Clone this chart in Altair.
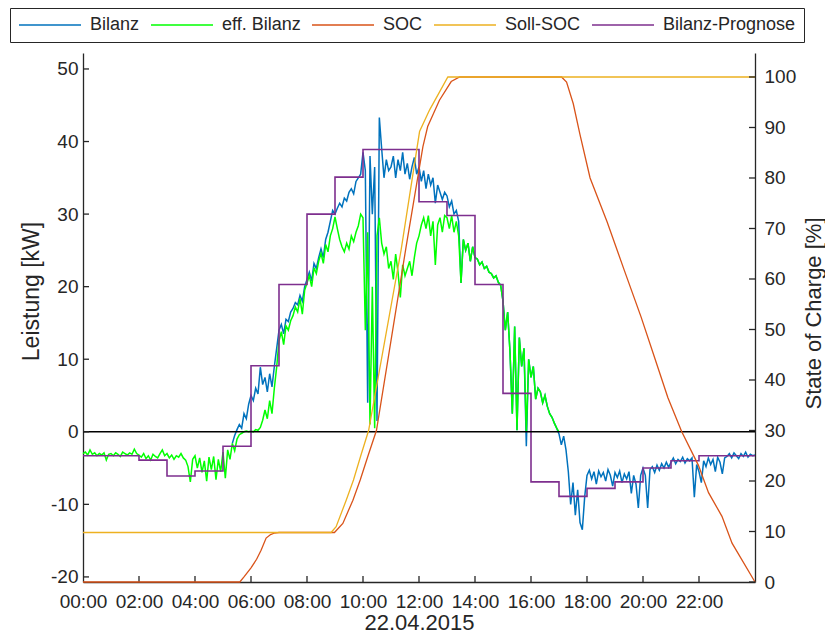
import altair as alt
import pandas as pd

# ---------------- data ----------------
series_names = ["Bilanz", "eff. Bilanz", "SOC", "Soll-SOC", "Bilanz-Prognose"]
series_colors = ["#0072BD", "#00FF00", "#D95319", "#EDB120", "#7E2F8E"]

# eff. Bilanz [kW], 5-minute values, one row per hour (0h .. 16h), then 17:00
eff_rows = [
    [-3.0, -2.8, -3.2, -2.5, -3.1, -2.9, -3.3, -3.0, -3.2, -2.9, -3.9, -3.1],
    [-3.0, -3.3, -2.9, -3.1, -3.4, -2.8, -3.0, -3.2, -2.9, -3.1, -2.4, -3.0],
    [-3.2, -3.5, -3.0, -3.7, -3.3, -3.9, -3.1, -3.4, -3.6, -3.0, -2.5, -3.3],
    [-3.0, -3.6, -3.2, -3.8, -3.3, -3.5, -3.0, -3.6, -3.9, -4.8, -6.9, -3.8],
    [-3.3, -5.0, -3.6, -5.6, -4.0, -6.8, -3.5, -5.2, -3.4, -6.6, -3.8, -5.5],
    [-2.8, -6.4, -2.5, -3.8, -1.6, -2.6, -1.0, -0.4, -0.2, 0.0, 0.1, 0.0],
    [0.1, 0.0, 0.3, 0.2, 0.6, 1.6, 3.0, 1.8, 4.3, 2.5, 6.0, 8.9],
    [12.5, 13.8, 12.0, 14.6, 14.0, 15.3, 16.0, 17.2, 16.5, 18.4, 16.2, 19.5],
    [20.5, 21.5, 20.0, 22.6, 21.8, 23.5, 24.6, 23.2, 25.8, 24.8, 27.0, 28.0],
    [29.6, 28.0, 26.5, 25.5, 24.8, 26.0, 25.2, 27.0, 26.2, 27.5, 28.4, 30.0],
    [29.5, 14.0, 27.5, 1.0, 20.0, 0.5, 27.0, 29.5, 26.0, 24.5, 25.5, 22.5],
    [23.5, 21.0, 24.5, 22.0, 18.5, 23.0, 21.5, 22.5, 23.5, 21.5, 24.0, 26.0],
    [27.0, 28.5, 29.5, 28.0, 29.8, 27.0, 29.0, 23.0, 28.5, 29.5, 27.5, 29.8],
    [29.5, 28.0, 29.8, 27.5, 29.0, 27.0, 20.5, 26.5, 25.0, 26.0, 23.5, 25.5],
    [24.0, 23.8, 23.0, 23.4, 22.5, 22.8, 22.0, 21.8, 21.2, 21.5, 20.6, 20.2],
    [18.0, 14.0, 16.5, 11.0, 2.5, 14.5, 0.2, 13.0, 9.0, 11.5, 0.0, 10.0],
    [7.5, 9.0, 4.5, 6.0, 5.5, 4.0, 5.0, 3.5, 2.5, 2.0, 1.2, 0.5],
]
eff_end = 0.0

# Bilanz [kW], 5-minute values from 05:20 (first row), then one row per hour 6h .. 23h, then 24:00
bil_start_row = [-1.6, -0.5, 0.3, 1.0, 0.5, 2.5, 1.8, 3.8]
bil_rows = [
    [5.0, 4.3, 6.0, 5.2, 8.9, 6.5, 7.5, 5.5, 8.0, 6.2, 9.0, 11.5],
    [14.0, 14.8, 13.5, 15.5, 15.2, 16.5, 17.0, 17.8, 17.5, 18.8, 18.0, 20.0],
    [21.0, 22.0, 20.8, 23.2, 22.5, 24.0, 25.2, 24.0, 26.5, 27.5, 29.0, 30.5],
    [30.0, 30.8, 31.5, 31.0, 32.2, 31.8, 33.0, 33.5, 32.8, 34.5, 35.0, 35.5],
    [38.5, 36.0, 4.0, 38.0, 30.0, 36.5, 1.5, 43.3, 39.0, 35.0, 37.5, 36.0],
    [36.5, 38.0, 35.0, 37.5, 36.0, 38.5, 35.5, 37.0, 34.8, 36.5, 37.8, 35.5],
    [36.5, 34.5, 36.0, 33.5, 35.5, 34.0, 35.0, 31.5, 34.0, 33.0, 32.0, 33.0],
    [32.5, 31.0, 31.8, 30.0, 30.5, 29.0, 20.5, 26.5, 25.0, 26.0, 23.5, 25.5],
    [24.0, 23.8, 23.0, 23.4, 22.5, 22.8, 22.0, 21.8, 21.2, 21.5, 20.6, 20.2],
    [18.0, 14.0, 16.5, 11.0, 2.5, 14.5, 0.2, 13.0, 9.0, 11.5, -2.0, 10.0],
    [7.5, 9.0, 4.5, 6.0, 5.5, 4.0, 5.0, 3.5, 2.5, 2.0, 1.2, 0.5],
    [-0.3, -1.8, -0.6, -2.5, -5.5, -10.0, -7.0, -11.5, -8.0, -12.5, -13.5, -9.0],
    [-6.0, -5.3, -6.5, -5.5, -7.2, -5.4, -6.2, -5.6, -6.8, -5.2, -6.0, -7.5],
    [-5.6, -6.3, -5.4, -7.0, -5.8, -6.5, -5.5, -8.5, -6.0, -7.2, -10.5, -6.0],
    [-5.0, -6.0, -10.5, -5.2, -4.8, -5.6, -4.6, -5.3, -4.4, -5.0, -4.2, -4.9],
    [-4.2, -3.6, -4.4, -3.8, -4.1, -3.5, -4.3, -3.7, -4.0, -3.6, -9.0, -4.5],
    [-5.5, -7.0, -4.0, -4.8, -3.6, -4.5, -3.8, -5.5, -3.5, -4.2, -5.8, -3.6],
    [-3.4, -3.0, -3.6, -2.9, -3.3, -3.7, -3.0, -3.4, -2.8, -3.5, -3.1, -3.3],
]
bil_end = -3.2

# Bilanz-Prognose [kW], hourly steps 0h..23h
prog_vals = [-3.3, -3.3, -3.9, -6.1, -5.4, -2.0, 9.1, 20.3, 30.0, 35.1, 38.9, 38.9,
             31.7, 29.8, 20.3, 5.3, -6.9, -8.9, -7.8, -6.9, -5.0, -4.0, -3.3, -3.3]

# SOC [%]
soc_t = [0, 5.6, 5.75, 6.0, 6.2, 6.36, 6.54, 6.7, 6.84, 7.0, 8.98, 9.28, 9.64, 9.9,
         10.18, 10.48, 11.02, 11.54, 12.14, 12.31, 12.73, 13.15, 13.45, 17.09, 17.27,
         17.51, 17.75, 18.11, 18.72, 19.32, 19.93, 20.41, 20.89, 21.38, 21.98, 22.34,
         22.82, 23.18, 24.0]
soc_v = [0, 0, 1.0, 2.8, 4.5, 6.3, 8.7, 9.4, 9.7, 9.8, 9.8, 11.6, 16.2, 20.2,
         25.0, 30.0, 48.5, 66.4, 86.2, 90.2, 95.4, 99.1, 100, 100, 99.0,
         94.7, 88.6, 80.0, 71.3, 61.9, 52.5, 44.5, 36.5, 29.8, 23.1, 17.7,
         13.0, 7.7, 0]

# Soll-SOC [%]
soll_t = [0, 8.86, 9.04, 9.4, 9.66, 9.92, 10.2, 11.36, 12.02, 12.38, 13.03, 24]
soll_v = [9.8, 9.8, 10.95, 16.2, 20.2, 25.0, 30.0, 65.7, 89.2, 93.5, 100, 100]

x_tick_vals = [0, 2, 4, 6, 8, 10, 12, 14, 16, 18, 20, 22]
yl_tick_vals = [-20, -10, 0, 10, 20, 30, 40, 50]
yr_tick_vals = [0, 10, 20, 30, 40, 50, 60, 70, 80, 90, 100]

# ---------------- tables ----------------
eff_t, eff_v = [], []
for h, row in enumerate(eff_rows):
    for k, v in enumerate(row):
        eff_t.append(round(h + k / 12, 4))
        eff_v.append(v)
eff_t.append(17.0)
eff_v.append(eff_end)

bil_t, bil_v = [], []
for k, v in enumerate(bil_start_row):
    bil_t.append(round(5 + (k + 4) / 12, 4))
    bil_v.append(v)
for i, row in enumerate(bil_rows):
    for k, v in enumerate(row):
        bil_t.append(round(6 + i + k / 12, 4))
        bil_v.append(v)
bil_t.append(24.0)
bil_v.append(bil_end)

prog_t = list(range(24)) + [24]
prog_v = prog_vals + [prog_vals[-1]]

df_bil = pd.DataFrame({"t": bil_t, "v": bil_v, "series": "Bilanz"})
df_eff = pd.DataFrame({"t": eff_t, "v": eff_v, "series": "eff. Bilanz"})
df_prog = pd.DataFrame({"t": prog_t, "v": prog_v, "series": "Bilanz-Prognose"})
df_soc = pd.DataFrame({"t": soc_t, "v": soc_v, "series": "SOC"})
df_soll = pd.DataFrame({"t": soll_t, "v": soll_v, "series": "Soll-SOC"})
df_zero = pd.DataFrame({"t": [0, 24], "v": [0, 0]})
df_xt = pd.DataFrame({"t": x_tick_vals[1:]})
df_ylt = pd.DataFrame({"v": yl_tick_vals})
df_yrt = pd.DataFrame({"v": yr_tick_vals})

# ---------------- encodings ----------------
TXT = "#262626"
W, H = 672, 529

X = alt.X(
    "t:Q",
    scale=alt.Scale(domain=[0, 24], nice=False, zero=False),
    axis=alt.Axis(
        values=x_tick_vals,
        labelExpr="(datum.value < 10 ? '0' : '') + datum.value + ':00'",
        title="22.04.2015",
        labelPadding=10,
        labelFlush=False,
        labelOverlap=False,
        titleX=W / 2,
        titleY=40,
        titleFontSize=22,
        titleBaseline="middle",
        titleAlign="center",
    ),
)

YL = alt.Y(
    "v:Q",
    scale=alt.Scale(domain=[-20.7, 52.2], nice=False, zero=False),
    axis=alt.Axis(
        orient="left",
        values=yl_tick_vals,
        labelExpr="'' + datum.value",
        title="Leistung [kW]",
        labelPadding=5,
        titleAngle=270,
        titleX=-52,
        titleY=238,
        titleBaseline="middle",
        titleAlign="center",
    ),
)

YR = alt.Y(
    "v:Q",
    scale=alt.Scale(domain=[0, 104.75], nice=False, zero=False),
    axis=alt.Axis(
        orient="right",
        values=yr_tick_vals,
        labelExpr="'' + datum.value",
        title="State of Charge [%]",
        labelPadding=9,
        titleAngle=270,
        titleX=58,
        titleY=260,
        titleFontSize=22,
        titleBaseline="middle",
        titleAlign="center",
    ),
)

COLOR = alt.Color(
    "series:N",
    scale=alt.Scale(domain=series_names, range=series_colors),
    legend=alt.Legend(
        title=None,
        orient="none",
        legendX=-73,
        legendY=-45,
        direction="horizontal",
        columns=5,
        symbolType="stroke",
        symbolSize=3844,
        symbolStrokeWidth=1.5,
        clipHeight=18,
        labelFontSize=18,
        labelOffset=8,
        columnPadding=10,
        padding=8,
        strokeColor=TXT,
        fillColor="white",
        labelColor=TXT,
        labelLimit=300,
    ),
)

LW = 1.5

bil = alt.Chart(df_bil).mark_line(strokeWidth=LW).encode(x=X, y=YL, color=COLOR)
eff = alt.Chart(df_eff).mark_line(strokeWidth=LW).encode(x=X, y=YL, color=COLOR)
prog = alt.Chart(df_prog).mark_line(strokeWidth=1.6, interpolate="step-after").encode(
    x=X, y=YL, color=COLOR
)
zero = alt.Chart(df_zero).mark_line(color="black", strokeWidth=1.5).encode(x=X, y=YL)
lticks = alt.Chart(df_ylt).mark_rule(color=TXT, strokeWidth=1.3).encode(
    y=YL, x=alt.value(0), x2=alt.value(6)
)
xticks = alt.Chart(df_xt).mark_rule(color=TXT, strokeWidth=1.3).encode(
    x=X, y=alt.value(H), y2=alt.value(H - 6)
)

soc = alt.Chart(df_soc).mark_line(strokeWidth=1.3).encode(x=X, y=YR, color=COLOR)
soll = alt.Chart(df_soll).mark_line(strokeWidth=1.3).encode(x=X, y=YR, color=COLOR)
rticks = alt.Chart(df_yrt).mark_rule(color=TXT, strokeWidth=1.3).encode(
    y=YR, x=alt.value(W), x2=alt.value(W - 6)
)

left = alt.layer(bil, eff, prog, zero, lticks, xticks)
right = alt.layer(soc, soll, rticks)

chart = (
    alt.layer(left, right)
    .resolve_scale(y="independent", color="shared")
    .properties(
        width=W,
        height=H,
        autosize=alt.AutoSizeParams(type="none"),
        padding={"left": 75, "top": 45, "right": 70, "bottom": 54},
    )
    .configure(font="Liberation Sans")
    .configure_view(stroke=None)
    .configure_axis(
        grid=False,
        ticks=False,
        labelFontSize=19,
        titleFontSize=23,
        titleFontWeight="normal",
        labelColor=TXT,
        titleColor=TXT,
        domainColor=TXT,
        domainWidth=1.3,
        labelFont="Liberation Sans",
        titleFont="Liberation Sans",
    )
)

chart.save("out.html", embed_options={"renderer": "svg", "actions": False})
